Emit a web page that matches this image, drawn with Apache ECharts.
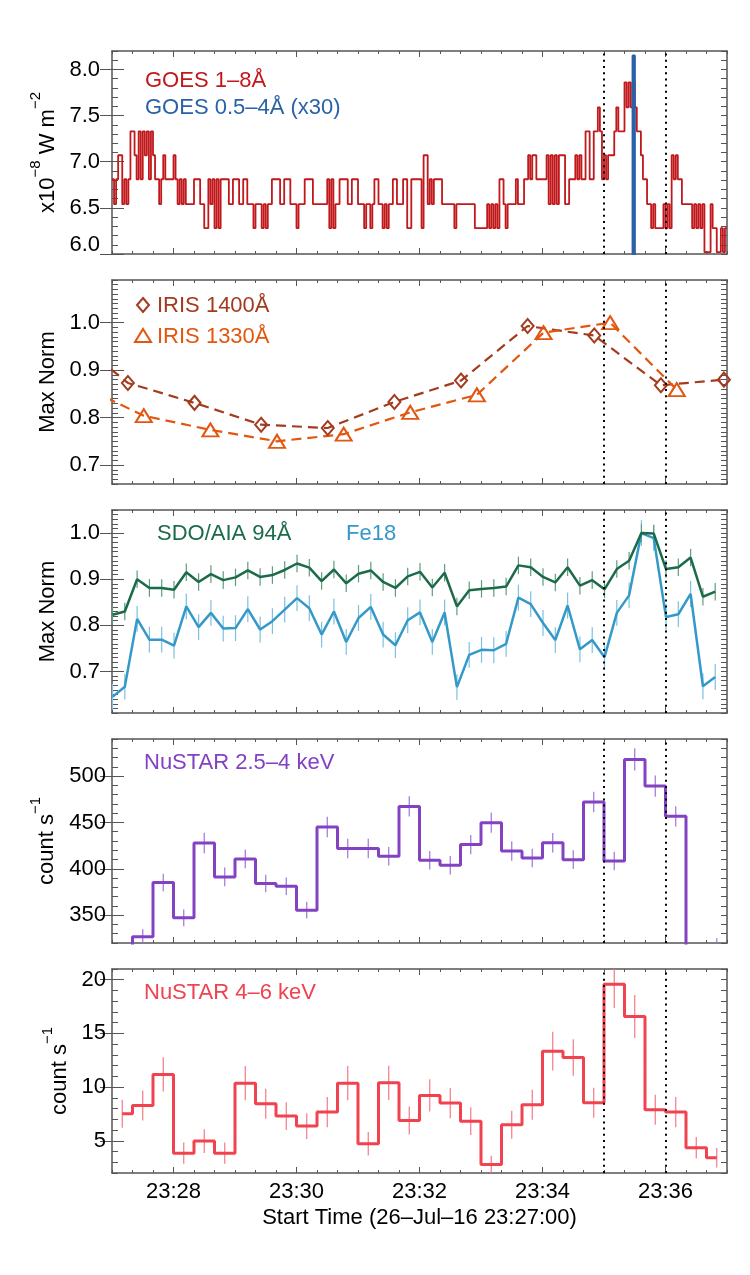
<!DOCTYPE html>
<html>
<head>
<meta charset="utf-8">
<script src="https://cdn.jsdelivr.net/npm/echarts@6/dist/echarts.min.js"></script>
<style>
  html, body { margin: 0; background: #fff; }
  #chart { width: 750px; height: 1275px; }
</style>
</head>
<body>
<div id="chart"></div>
<script>
// all times are seconds after 23:27:00
const timeTicks = [60, 180, 300, 420, 540];
const timeLabels = ["23:28", "23:30", "23:32", "23:34", "23:36"];
const flareWindow = [480, 540];

// GOES 1-8 A, change points of the quantised step trace (x1e-8 W m^-2)
const goesTime = [
  0, 2, 4, 6, 10, 12, 14, 16, 18, 22, 24, 26, 28, 30, 32, 34, 36, 38, 40, 42,
  46, 48, 50, 52, 60, 62, 64, 66, 68, 70, 72, 80, 86, 90, 94, 96, 98, 100, 102, 104,
  106, 114, 118, 124, 128, 132, 138, 140, 146, 148, 150, 152, 156, 164, 168, 174, 180, 182, 188, 196,
  210, 212, 214, 216, 218, 222, 230, 234, 240, 246, 248, 252, 254, 256, 260, 264, 266, 268, 270, 274,
  278, 284, 288, 292, 302, 304, 308, 310, 312, 314, 322, 334, 336, 354, 366, 368, 370, 372, 374, 376,
  378, 382, 384, 386, 394, 396, 402, 406, 408, 410, 414, 424, 426, 428, 430, 432, 434, 436, 442, 446,
  452, 454, 456, 458, 462, 466, 470, 474, 476, 478, 480, 482, 484, 490, 492, 494, 500, 502, 504, 506,
  508, 510, 512, 516, 518, 522, 526, 528, 530, 538, 540, 542, 544, 546, 548, 550, 552, 556, 566, 568,
  570, 572, 574, 576, 578, 584, 586, 590, 594, 596, 598, 600,
];
const goesLong = [
  6.81, 6.54, 6.81, 7.07, 6.54, 6.81, 6.54, 6.81, 7.33, 7.07, 6.81, 7.33, 6.81, 7.33, 7.07, 7.33, 6.81, 7.33, 7.07, 6.81,
  6.54, 6.81, 7.07, 6.81, 7.07, 6.81, 6.54, 6.81, 6.54, 6.81, 6.54, 6.81, 6.54, 6.28, 6.81, 6.54, 6.81, 6.28, 6.81, 6.28,
  6.81, 6.54, 6.81, 6.54, 6.81, 6.54, 6.28, 6.54, 6.28, 6.54, 6.28, 6.54, 6.81, 6.54, 6.81, 6.54, 6.28, 6.54, 6.81, 6.54,
  6.81, 6.28, 6.81, 6.28, 6.54, 6.81, 6.54, 6.81, 6.54, 6.28, 6.54, 6.28, 6.54, 6.81, 6.54, 6.28, 6.54, 6.28, 6.54, 6.81,
  6.54, 6.81, 6.28, 6.81, 6.28, 7.07, 6.54, 6.81, 6.54, 6.81, 6.54, 6.28, 6.54, 6.28, 6.54, 6.28, 6.54, 6.28, 6.54, 6.28,
  6.81, 6.54, 6.28, 6.54, 6.81, 6.54, 6.81, 7.07, 6.81, 7.07, 6.81, 7.07, 6.54, 7.07, 6.54, 7.07, 6.54, 7.07, 6.54, 6.81,
  7.07, 6.81, 7.07, 6.81, 7.33, 6.81, 7.33, 7.59, 7.33, 6.81, 7.07, 6.81, 7.07, 7.33, 7.59, 7.33, 7.86, 7.59, 7.86, 7.59,
  7.86, 7.59, 7.33, 7.07, 6.81, 6.54, 6.28, 6.54, 6.28, 6.54, 6.28, 6.54, 6.28, 7.07, 6.81, 7.07, 6.81, 6.54, 6.28, 6.54,
  6.28, 6.54, 6.28, 6.54, 6.02, 6.54, 6.28, 6.02, 6.28, 6.02, 6.28, 6.28,
];
// GOES 0.5-4 A (x30): off scale below 6 except one sample
const goesShortTime = [0, 508, 510, 600];
const goesShort = [4.4, 8.15, 4.4, 4.4];

// IRIS slit-jaw lightcurves (max normalised)
const iris1400Time = [-49.5, 15.5, 80.5, 145.5, 210.5, 275.5, 340.5, 405.5, 470.5, 535.5, 597];
const iris1400 = [0.986, 0.873, 0.831, 0.785, 0.778, 0.833, 0.878, 0.993, 0.973, 0.868, 0.880];
const iris1330Time = [-34, 31, 96, 161, 226, 291, 356, 421, 486, 551];
const iris1330 = [0.871, 0.804, 0.774, 0.750, 0.765, 0.811, 0.848, 0.979, 1.0, 0.859];

// SDO/AIA 94 A and Fe18 (max normalised)
const aiaTime = [
  0.5, 12.5, 24.5, 36.5, 48.5, 60.5, 72.5, 84.5, 96.5, 108.5,
  120.5, 132.5, 144.5, 156.5, 168.5, 180.5, 192.5, 204.5, 216.5, 228.5,
  240.5, 252.5, 264.5, 276.5, 288.5, 300.5, 312.5, 324.5, 336.5, 348.5,
  360.5, 372.5, 384.5, 396.5, 408.5, 420.5, 432.5, 444.5, 456.5, 468.5,
  480.5, 492.5, 504.5, 516.5, 528.5, 540.5, 552.5, 564.5, 576.5, 588.5,
];
const aia94 = [
  0.823, 0.830, 0.900, 0.881, 0.881, 0.877, 0.915, 0.894, 0.911, 0.898,
  0.904, 0.919, 0.905, 0.909, 0.920, 0.934, 0.925, 0.896, 0.921, 0.891,
  0.912, 0.919, 0.894, 0.881, 0.906, 0.916, 0.882, 0.914, 0.841, 0.876,
  0.879, 0.881, 0.884, 0.930, 0.926, 0.905, 0.893, 0.926, 0.886, 0.898,
  0.878, 0.922, 0.940, 1.000, 0.999, 0.922, 0.926, 0.947, 0.862, 0.873,
];
const fe18 = [
  0.645, 0.667, 0.814, 0.769, 0.769, 0.756, 0.841, 0.796, 0.827, 0.793,
  0.794, 0.835, 0.791, 0.809, 0.834, 0.859, 0.837, 0.780, 0.830, 0.764,
  0.816, 0.840, 0.780, 0.757, 0.811, 0.828, 0.764, 0.828, 0.666, 0.736,
  0.747, 0.746, 0.760, 0.860, 0.846, 0.805, 0.768, 0.843, 0.748, 0.768,
  0.731, 0.827, 0.865, 1.000, 0.989, 0.818, 0.824, 0.868, 0.668, 0.688,
];
const aia94Err = 0.019;
const fe18Err = 0.028;

// NuSTAR 20 s bins (count s^-1)
const nuTime = [
  10, 30, 50, 70, 90, 110, 130, 150, 170, 190, 210, 230, 250, 270, 290,
  310, 330, 350, 370, 390, 410, 430, 450, 470, 490, 510, 530, 550, 570, 590,
];
const nuLow = [
  280, 326.7, 385.2, 347.1, 427.9, 391.3, 410.7, 384.1, 381.2, 355.4, 445.1, 421.8, 421.8, 413.5, 467.3,
  409.2, 403.8, 426.1, 449.8, 419.3, 411.7, 428.2, 409.9, 472.0, 408.5, 517.9, 489.2, 456.6, 250, 316,
];
const nuLowErr = [
  9, 8, 9.5, 9, 11, 10, 10, 9.5, 9.5, 9, 11, 10.5, 10.5, 10, 11,
  10, 10, 10.5, 11, 10.5, 10, 10.5, 10, 11, 10, 12, 11.5, 11, 9, 9,
];
const nuHigh = [
  7.52, 8.29, 11.18, 3.85, 4.97, 3.85, 10.37, 8.45, 7.30, 6.37, 7.67, 10.37, 4.72, 10.40, 6.89,
  9.22, 8.51, 6.83, 2.80, 6.49, 8.35, 13.35, 12.76, 8.54, 19.57, 16.58, 7.89, 7.67, 4.35, 3.42,
];
const nuHighErr = [
  1.3, 1.4, 1.6, 1.0, 1.1, 1.0, 1.6, 1.4, 1.3, 1.2, 1.4, 1.6, 1.1, 1.6, 1.3,
  1.5, 1.4, 1.3, 0.8, 1.3, 1.4, 1.8, 1.7, 1.4, 2.2, 2.0, 1.4, 1.4, 1.0, 0.9,
];

const goesTicks = [6.0, 6.5, 7.0, 7.5, 8.0];
const normTicks = [0.7, 0.8, 0.9, 1.0];
const nuLowTicks = [350, 400, 450, 500];
const nuHighTicks = [5, 10, 15, 20];

const FONT = '"Liberation Sans", Arial, Helvetica, sans-serif';
const gridTop = [51, 280, 510, 739, 969];
const gridHeight = [203, 204, 203, 204, 204];
const frameLine = { show: true, onZero: false, lineStyle: { color: "#555", width: 1.5 } };
const tickStyle = { color: "#555", width: 1 };
const supRich = {
  n: { fontSize: 22, fontFamily: FONT, color: "#000", lineHeight: 30, verticalAlign: "bottom" },
  s: { fontSize: 15, fontFamily: FONT, color: "#000", lineHeight: 15, verticalAlign: "top" },
};

const yConf = [
  { min: 6.0, max: 8.2, ticks: goesTicks, minor: 0.1, digits: 1, margin: 12, gap: 44,
    name: "{n|x10}{s|−8}{n| W m}{s|−2}" },
  { min: 0.66, max: 1.09, ticks: normTicks, minor: 0.01, digits: 1, margin: 12, gap: 45, name: "Max Norm" },
  { min: 0.61, max: 1.05, ticks: normTicks, minor: 0.01, digits: 1, margin: 12, gap: 45, name: "Max Norm" },
  { min: 320, max: 540, ticks: nuLowTicks, minor: 10, digits: 0, margin: 6, gap: 52,
    name: "{n|count s}{s|−1}" },
  { min: 2, max: 21, ticks: nuHighTicks, minor: 1, digits: 0, margin: 6, gap: 41,
    name: "{n|count s}{s|−1}" },
];

function steps(min, max, step) {
  const out = [];
  for (let i = 0; ; i++) {
    const v = +(min + i * step).toFixed(6);
    if (v > max + 1e-9) break;
    out.push(v);
  }
  return out;
}

function xAxesFor(g) {
  const last = g === 4;
  const common = { type: "value", gridIndex: g, min: 0, max: 600, splitLine: { show: false } };
  const axes = [];
  for (const position of ["bottom", "top"]) {
    const labelled = last && position === "bottom";
    axes.push({
      ...common, position, axisLine: frameLine,
      axisTick: { inside: true, length: 3, customValues: steps(0, 600, 20), lineStyle: tickStyle },
      axisLabel: { show: false },
    });
    axes.push({
      ...common, position, axisLine: { show: false },
      axisTick: { inside: true, length: 6, customValues: timeTicks, lineStyle: tickStyle },
      axisLabel: labelled
        ? { customValues: timeTicks, formatter: (v) => timeLabels[timeTicks.indexOf(v)],
            fontSize: 22, fontFamily: FONT, color: "#000", margin: 8 }
        : { show: false },
      name: labelled ? "Start Time (26–Jul–16 23:27:00)" : "",
      nameLocation: "middle", nameGap: 34,
      nameTextStyle: { fontSize: 22, fontFamily: FONT, color: "#000" },
    });
  }
  return axes;
}

function yAxesFor(g) {
  const c = yConf[g];
  const common = { type: "value", gridIndex: g, min: c.min, max: c.max, splitLine: { show: false } };
  const fmt = (v) => {
    const s = v.toFixed(c.digits);
    return g === 0 && v === c.min ? "{lo|" + s + "}" : s;
  };
  const axes = [];
  for (const position of ["left", "right"]) {
    const labelled = position === "left";
    axes.push({
      ...common, position, axisLine: frameLine,
      axisTick: { inside: true, length: 6, customValues: steps(c.min, c.max, c.minor), lineStyle: tickStyle },
      axisLabel: { show: false },
    });
    axes.push({
      ...common, position, axisLine: { show: false },
      axisTick: { inside: true, length: 12, customValues: c.ticks, lineStyle: tickStyle },
      axisLabel: labelled
        ? { customValues: c.ticks, formatter: fmt, fontSize: 22, fontFamily: FONT, color: "#000",
            margin: c.margin, rich: { lo: { fontSize: 22, fontFamily: FONT, padding: [0, 0, 18, 0] } } }
        : { show: false },
      name: labelled ? c.name : "",
      nameLocation: "middle", nameGap: c.gap, nameRotate: 90,
      nameTextStyle: { fontSize: 22, fontFamily: FONT, color: "#000", rich: supRich },
    });
  }
  return axes;
}

const pairs = (xs, ys) => xs.map((x, i) => [x, ys[i]]);
const onGrid = (g) => ({ xAxisIndex: 4 * g, yAxisIndex: 4 * g });

function stepLine(g, xs, ys, color, width, step) {
  return { type: "line", ...onGrid(g), step, data: pairs(xs, ys), symbol: "none",
    lineStyle: { color, width }, clip: true, silent: true };
}

function errorBars(g, xs, ys, errs, color) {
  return {
    type: "custom", ...onGrid(g), clip: true, silent: true,
    data: xs.map((x, i) => [x, ys[i], errs[i]]),
    renderItem: (params, api) => {
      const lo = api.coord([api.value(0), api.value(1) - api.value(2)]);
      const hi = api.coord([api.value(0), api.value(1) + api.value(2)]);
      return { type: "line", shape: { x1: lo[0], y1: lo[1], x2: hi[0], y2: hi[1] },
        style: { stroke: color, lineWidth: 1.2 } };
    },
  };
}

function irisLine(xs, ys, color, symbol, size) {
  return { type: "line", ...onGrid(1), data: pairs(xs, ys), clip: true, silent: true,
    symbol, symbolSize: size, showAllSymbol: true,
    lineStyle: { color, width: 2.2, type: [10, 6] },
    itemStyle: { color: "rgba(0,0,0,0)", borderColor: color, borderWidth: 2 } };
}

function windowLines(g) {
  return { type: "line", ...onGrid(g), data: [], z: 10, silent: true,
    markLine: { silent: true, symbol: "none", label: { show: false }, animation: false,
      lineStyle: { type: [2, 4.2], width: 2, color: "#000", cap: "butt" },
      data: flareWindow.map((t) => ({ xAxis: t })) } };
}

const red = "#c1181c", blue = "#2a62a8";
const brown = "#a33b1e", orange = "#e2560f";
const green = "#1c6b48", cyan = "#3499c9";
const purple = "#8242c2", pink = "#f0424f";

const series = [
  stepLine(0, goesTime, goesLong, red, 1.8, "end"),
  stepLine(0, goesShortTime, goesShort, blue, 2.2, "end"),
  irisLine(iris1400Time, iris1400, brown, "diamond", [12, 14]),
  irisLine(iris1330Time, iris1330, orange, "triangle", [16, 13]),
  errorBars(2, aiaTime, fe18, aiaTime.map(() => fe18Err), "#7cc0e2"),
  errorBars(2, aiaTime, aia94, aiaTime.map(() => aia94Err), "#5f9c80"),
  { type: "line", ...onGrid(2), data: pairs(aiaTime, fe18), symbol: "none", silent: true,
    lineStyle: { color: cyan, width: 2.5 } },
  { type: "line", ...onGrid(2), data: pairs(aiaTime, aia94), symbol: "none", silent: true,
    lineStyle: { color: green, width: 2.5 } },
  errorBars(3, nuTime, nuLow, nuLowErr, "#a173dc"),
  stepLine(3, nuTime, nuLow, purple, 3, "middle"),
  errorBars(4, nuTime, nuHigh, nuHighErr, "#f57884"),
  stepLine(4, nuTime, nuHigh, pink, 3, "middle"),
  ...[0, 1, 2, 3, 4].map(windowLines),
];

const legendText = (x, y, text, fill) => ({
  type: "text", x, y, silent: true,
  style: { text, fill, font: "22px " + FONT, align: "left", verticalAlign: "middle" },
});

const graphic = [
  legendText(145, 81, "GOES 1–8Å", red),
  legendText(145, 108, "GOES 0.5–4Å (x30)", blue),
  { type: "polygon", silent: true, shape: { points: [[143, 298], [149, 305], [143, 312], [137, 305]] },
    style: { fill: "none", stroke: brown, lineWidth: 2 } },
  legendText(157, 306, "IRIS 1400Å", brown),
  { type: "polygon", silent: true, shape: { points: [[143, 329], [151, 342], [135, 342]] },
    style: { fill: "none", stroke: orange, lineWidth: 2 } },
  legendText(157, 337, "IRIS 1330Å", orange),
  legendText(157, 534, "SDO/AIA 94Å", green),
  legendText(346, 534, "Fe18", cyan),
  legendText(144, 763, "NuSTAR 2.5–4 keV", purple),
  legendText(144, 993, "NuSTAR 4–6 keV", pink),
];

const chart = echarts.init(document.getElementById("chart"), null, { renderer: "canvas" });
chart.setOption({
  animation: false,
  backgroundColor: "#fff",
  grid: gridTop.map((top, i) => ({ left: 112, right: 23, top, height: gridHeight[i] })),
  xAxis: [0, 1, 2, 3, 4].flatMap(xAxesFor),
  yAxis: [0, 1, 2, 3, 4].flatMap(yAxesFor),
  series,
  graphic,
});
</script>
</body>
</html>
